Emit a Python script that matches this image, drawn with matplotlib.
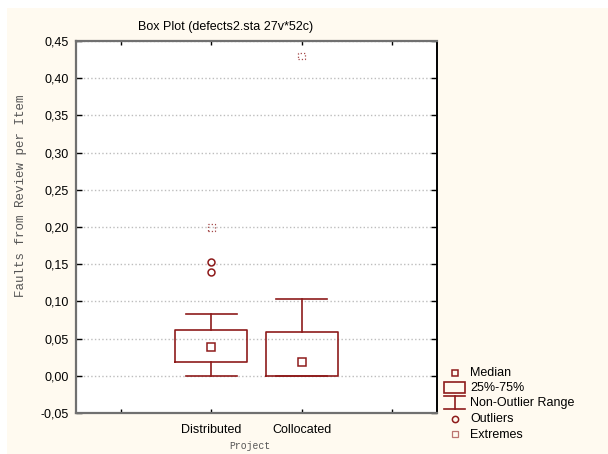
import matplotlib
matplotlib.use("Agg")
from matplotlib import pyplot as plt
from matplotlib.patches import Rectangle
from matplotlib.lines import Line2D
from matplotlib.ticker import FuncFormatter
import numpy as np

# data
projects = ["Distributed", "Collocated"]
positions = [1, 2]
medians = [0.039, 0.018]
q1 = [0.019, 0.0]
q3 = [0.062, 0.059]
whisker_lo = [0.0, 0.0]
whisker_hi = [0.083, 0.103]
outliers = [[0.153, 0.139], []]
extremes = [[0.199], [0.430]]

y_ticks = np.arange(-0.05, 0.451, 0.05)

RED = "#8e1b1b"
CREAM = "#fffaf0"
W, H = 608, 454

fig = plt.figure(figsize=(W / 100, H / 100), dpi=100)
fig.patch.set_facecolor("white")
fig.patches.append(Rectangle((7 / W, 0), 1, 1 - 8 / H, transform=fig.transFigure,
                             facecolor=CREAM, edgecolor="none", zorder=-10))

ax = fig.add_axes([76 / W, (H - 413) / H, (437 - 76) / W, (413 - 41) / H])
ax.set_facecolor("white")

stats = []
for i in range(len(projects)):
    stats.append(dict(med=medians[i], q1=q1[i], q3=q3[i],
                      whislo=whisker_lo[i], whishi=whisker_hi[i], fliers=[]))

ax.bxp(stats, positions=positions, widths=0.8, capwidths=0.56,
       showfliers=False, manage_ticks=False,
       boxprops=dict(color=RED, linewidth=1.2),
       whiskerprops=dict(color=RED, linewidth=1.2),
       capprops=dict(color=RED, linewidth=1.2),
       medianprops=dict(linestyle="none"))

ax.plot(positions, medians, "s", mfc="none", mec=RED, ms=5.2, mew=1.1, zorder=5)

for pos, vals in zip(positions, outliers):
    if vals:
        ax.plot([pos] * len(vals), vals, "o", mfc="none", mec=RED, ms=5, mew=1.1)

for pos, vals in zip(positions, extremes):
    ax.scatter([pos] * len(vals), vals, marker="s", s=22, facecolors="none",
               edgecolors=RED, linewidths=0.9, linestyles=":", alpha=0.8)

ax.set_xlim(-0.5, 3.5)
ax.set_ylim(-0.05, 0.45)
ax.set_xticks([0, 1, 2, 3])
ax.set_xticklabels(["", projects[0], projects[1], ""], fontsize=9,
                   family="Liberation Sans")
ax.set_yticks(y_ticks)
ax.yaxis.set_major_formatter(FuncFormatter(lambda v, p: f"{v:.2f}".replace(".", ",").replace("-0,00", "0,00")))
for lab in ax.get_yticklabels():
    lab.set_family("Liberation Sans")
    lab.set_fontsize(9)

ax.tick_params(axis="x", direction="in", length=3, pad=8, top=True, width=1)
ax.tick_params(axis="y", direction="in", length=4, pad=5, right=True, width=1)

ax.yaxis.grid(True, linestyle=":", color="#bdbdbd", linewidth=1)
ax.set_axisbelow(True)

for side in ["left", "bottom", "top"]:
    ax.spines[side].set_color("#707070")
    ax.spines[side].set_linewidth(1.6)
ax.spines["right"].set_color("black")
ax.spines["right"].set_linewidth(1.4)

fig.text(226 / W, 1 - 27 / H, "Box Plot (defects2.sta 27v*52c)", ha="center",
         va="center", fontsize=9, family="Liberation Sans")
fig.text(21 / W, 1 - 196 / H, "Faults from Review per Item", rotation=90,
         ha="center", va="center", fontsize=9, family="Liberation Mono",
         color="#555555")
fig.text(250 / W, 1 - 446 / H, "Project", ha="center", va="center",
         fontsize=7, family="Liberation Mono", color="#555555")

# legend drawn by hand, like the original
def px(x, y):
    return x / W, 1 - y / H

lx0, lx1, lxc = 444, 465, 454.5
fig.add_artist(Line2D(*zip(px(lxc, 372.7)), marker="s", mfc="none", mec=RED,
                      ms=5, mew=1.1, linestyle="none"))
fig.add_artist(Rectangle(px(lx0, 393), (lx1 - lx0) / W, 11 / H,
                         transform=fig.transFigure, facecolor="none",
                         edgecolor=RED, linewidth=1.2))
for yy in (395.5, 408.7):
    fig.add_artist(Line2D([lx0 / W, lx1 / W], [1 - yy / H] * 2, color=RED, lw=1.2))
fig.add_artist(Line2D([lxc / W] * 2, [1 - 395.5 / H, 1 - 408.7 / H], color=RED, lw=1.2))
fig.add_artist(Line2D(*zip(px(lxc, 419)), marker="o", mfc="none", mec=RED,
                      ms=4.5, mew=1.1, linestyle="none"))
fig.add_artist(Line2D(*zip(px(lxc, 434)), marker="s", mfc="none", mec=RED,
                      ms=5, mew=0.9, linestyle="none", alpha=0.6))

labels = ["Median", "25%-75%", "Non-Outlier Range", "Outliers", "Extremes"]
rows = [372.7, 388, 403, 419, 434.5]
for txt, yy in zip(labels, rows):
    fig.text(470 / W, 1 - yy / H, txt, ha="left", va="center", fontsize=9,
             family="Liberation Sans")

fig.savefig("out.png", dpi=100, facecolor=fig.get_facecolor())
